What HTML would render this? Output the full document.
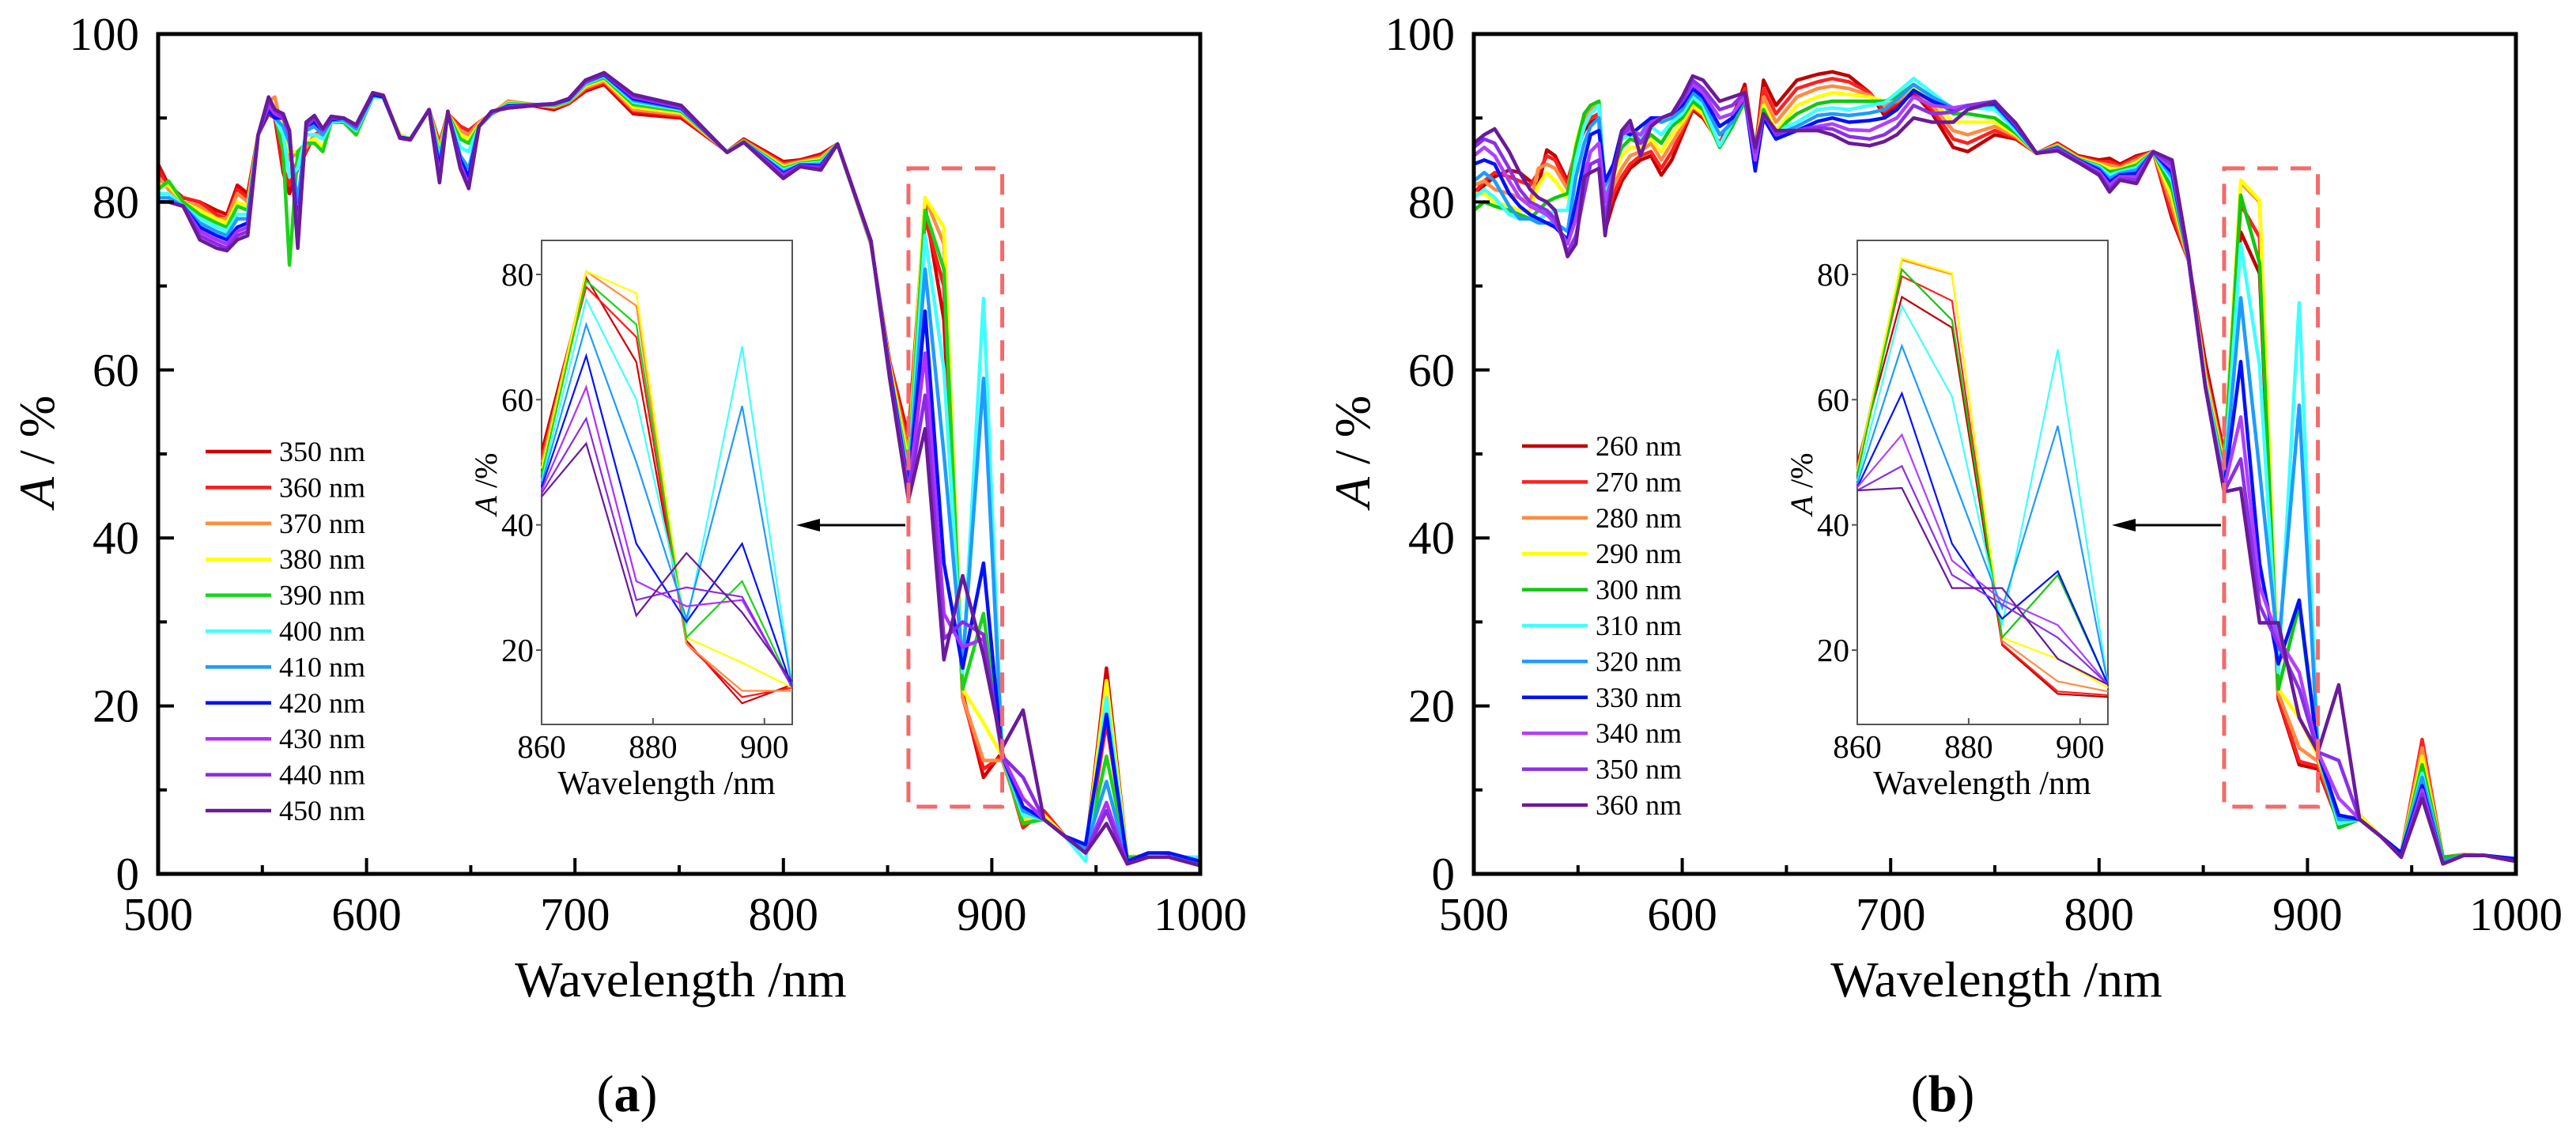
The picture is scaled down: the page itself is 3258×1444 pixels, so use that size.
<!DOCTYPE html>
<html><head><meta charset="utf-8"><style>
html,body{margin:0;padding:0;background:#fff;}
svg{display:block;}
text{font-family:"Liberation Serif","DejaVu Serif",serif;fill:#000;}
</style></head>
<body>
<svg id="chart" width="3258" height="1444" viewBox="0 0 3258 1444" xmlns="http://www.w3.org/2000/svg"></svg>
<script>
// ---------- Panel (a) data ----------
const labelsA = ["350 nm","360 nm","370 nm","380 nm","390 nm","400 nm","410 nm","420 nm","430 nm","440 nm","450 nm"];
const colorsA = ["#d40000","#ff1a1a","#ff8c40","#ffff00","#19d419","#40ffff","#1e9bff","#0010ff","#b030ff","#8a2be2","#6a1a9a"];
const waveA = [500,505,512,520,528,533,538,543,548,553,556,560,563,567,571,575,579,583,589,595,603,608,616,621,630,635,639,645,649,654,660,668,690,697,705,714,728,751,773,781,800,808,818,826,842,851,860,868,877,886,896,905,915,925,935,945,955,965,975,985,1000];
const specA = [
[84.5,84,83,82,81.5,81,80.5,80,80,80,80],
[82,81.5,81.5,82,82.5,81,80.5,80,80,80,80],
[80.5,80.5,80,80,80,79.5,79.5,79.5,79.5,79.5,79.5],
[80,80,79.5,79,78.5,78,77.5,77,76.5,76,75.5],
[79,78.5,78,78,77.5,77,76.5,76,75.5,75,74.5],
[78.5,78,78,77.5,77,76.5,76,75.5,75,74.5,74.2],
[82,81.5,81,80,79.5,78.5,78,77,76.5,76,75.5],
[81,80.5,80,79.5,79,78.5,78,77.5,77,76.5,76],
[88,88,88,88,88,88,88,88,88,88,88],
[90.5,91,92,91,91,91,91,91,91.5,92,92.5],
[90,90.5,92.5,91,90.5,90,90,90,90.5,91,91],
[83.5,84,88,89,86,88,89,90,90,90,90.5],
[81,82,85,86,72.5,83,87,88,88,88.5,88.5],
[84,85,86,86,86,84,80,77,76,75.5,74.5],
[86,86,86.5,87,87,88,88.5,89,89,89,89.5],
[88,88,88,87.5,87,88,89,89.5,90,90,90.3],
[88.5,88.5,88,86.5,86,87.5,88,88.5,88.5,88.7,88.7],
[89.5,89.5,89.5,89.5,89.5,89.5,89.7,89.8,90,90,90.2],
[89.5,89.5,89.5,89.5,89.5,89.7,89.8,90,90,90,90],
[88,88,88,88,88,88.5,88.7,89,89,89,89.2],
[92.5,92.5,92.5,92.5,92.5,92.5,92.7,92.8,93,93,93],
[92.5,92.5,92.5,92.5,92.5,92.5,92.5,92.5,92.7,92.7,92.7],
[88,88,88,88,87.8,87.8,87.7,87.7,87.6,87.6,87.6],
[87.5,87.5,87.5,87.5,87.5,87.5,87.5,87.5,87.4,87.4,87.4],
[91,91,91,91,91,91,91,91,91,91,91],
[87,87,86.5,86,85.5,85,84.5,84,83,82.5,82.3],
[90.5,90.5,90.5,90.5,90.5,90.5,90.5,90.7,90.7,90.8,90.8],
[89,89,88.5,88,87.5,86.5,85.5,85,84.5,84,84],
[88.5,88.5,88,87.5,87,86,84,83,82,81.8,81.6],
[89.5,89.5,89.5,89.2,89,89,89,89,89,89,89],
[90.5,90.5,90.5,90.5,90.5,90.5,90.5,90.7,90.7,90.8,90.8],
[92,92,92,91.8,91.7,91.6,91.5,91.4,91.3,91.2,91.2],
[91,91.2,91.3,91.4,91.5,91.6,91.6,91.7,91.7,91.7,91.7],
[91.7,91.8,91.9,92,92,92.1,92.2,92.2,92.3,92.3,92.3],
[93.2,93.4,93.6,93.8,94,94.1,94.2,94.3,94.3,94.4,94.5],
[94,94.2,94.4,94.6,94.8,95,95.1,95.2,95.3,95.3,95.4],
[90.5,90.8,91,91.3,91.6,91.9,92.1,92.3,92.5,92.6,92.8],
[90,90.2,90.4,90.6,90.8,91,91.1,91.2,91.3,91.4,91.5],
[86,86,86,86,86,86,85.9,85.9,85.9,85.9,85.9],
[87.5,87.4,87.3,87.2,87.2,87.1,87.1,87.1,87.1,87.1,87.1],
[84.8,84.6,84.4,84.2,84,83.8,83.6,83.4,83.2,83,82.8],
[85,84.9,84.8,84.7,84.6,84.5,84.4,84.4,84.3,84.2,84.2],
[85.7,85.5,85.3,85.1,84.9,84.7,84.5,84.3,84.1,84,83.8],
[86.9,86.9,86.9,86.9,86.9,86.9,86.9,86.9,86.9,86.9,86.9],
[75,75,75.1,75.1,75.2,75.2,75.3,75.3,75.4,75.4,75.4],
[61,61,60.5,60.5,60,60,60,60,59.5,59.5,59],
[52,51,50,49,48,47,46.5,46,45.5,45,44.5],
[79.5,78,80.5,80.5,79,76,72,67,62,57,53],
[66,70,75,77,72,60,50,37,31,28,25.5],
[21.5,21,21,22,22,24,25,24.5,27,30,35.5],
[11.5,12.5,13.5,18,31,68.5,59,37,28,28.5,26],
[14.5,14,13.5,14,14,14,14,14,14,14,15],
[6,5.5,6,6.5,6,7,7.5,8,9,11.5,19.5],
[7.5,7.5,7,7,6.5,6.5,6.5,6.5,6.5,6.5,6.5],
[4.5,4.5,4.5,4.5,4.5,4.5,4.5,4.5,4.5,4.5,4.5],
[2.5,2.5,2.5,2.5,2.5,1.5,3,3.5,2.5,2.5,2.5],
[24.5,18,22,23,14,21,11,19,8.5,7.5,6],
[2,2,2,2,2,1.5,1.5,1.5,1.2,1.2,1.2],
[2.2,2.2,2.2,2.2,2,2,2,2.5,2,2,2],
[2.2,2.2,2,2,2,2,2,2.5,2,2,2],
[1.5,1.5,1.5,1.5,1.5,2,1.5,1.5,1,1,1]
];

// ---------- Panel (b) data ----------
const labelsB = ["260 nm","270 nm","280 nm","290 nm","300 nm","310 nm","320 nm","330 nm","340 nm","350 nm","360 nm"];
const colorsB = ["#c00000","#ff2020","#ff8c40","#ffff00","#10c810","#40ffff","#1e9bff","#0010ff","#b040ff","#8a30e8","#6a1a9a"];
const waveB = [500,505,510,517,522,527,531,535,539,545,549,553,556,560,563,567,571,575,580,585,590,595,600,605,610,618,624,630,635,639,645,650,655,665,672,680,690,697,703,711,720,730,737,750,760,770,780,790,800,805,810,818,826,835,843,851,860,868,877,886,896,905,915,925,935,945,955,965,975,985,1000];
const specB = [
[80.5,81,82,81,79,80.5,82.5,84.5,85.5,86.5,87],
[82,82.5,82.5,81,80,81.5,83.5,85,86.5,87.5,88],
[83,83.5,81.5,80,79.5,80.5,82.5,84.5,85.5,87,88.7],
[83.8,83,81,79.5,79,78.5,79.5,81,82.5,84,86],
[83.5,82.5,80.5,79,78.5,78,78,79.5,80.5,81.5,83.5],
[82.5,82,80,79,78,78,78,78.5,79.5,80,81.5],
[82,83.5,84,82,79,78,77.5,78,79,79.5,80.5],
[86.2,85.5,84.5,83.5,80,78.5,77.5,77.5,78.5,79,80],
[85.5,85,84,82.5,80.5,79,77.5,77,77.5,78,79],
[82.5,82,81.5,80.5,81,79,76.5,75.5,75,74,73.5],
[86,86.5,86.5,87,86.5,85,83,80,78,76,75],
[88.5,89,90,90.5,90.5,89,87,85,83,81,83],
[89.5,90,91,91.5,91.5,90.5,89,88,86,84.5,83.5],
[90,90.5,91.5,92,92,91.5,90,88.5,87,85,84],
[76.6,77.5,79,80,81,81.5,82,82.5,80,78,76],
[80,81,82,83,84,84,84,84.5,83.5,83,83],
[82.5,83,84,85.5,86.5,87.5,88,88.5,88,88,88.5],
[84,84.5,85.5,86.5,87.5,88,88.5,88,88.5,89,89.7],
[85,85.5,86,86.5,87,87.5,88,89,88,87,85.5],
[85.5,86,87,87.5,88,89,90,90,89.5,89,89],
[83.2,84,85,86,87,88,89.5,90,90,90,90],
[85,86,87,88,89,89.5,90,90.5,90.5,90.5,90.5],
[88,88.5,89,89.5,90,90.5,91,91.5,92,92,92.5],
[91,91.2,91.4,91.5,92,92.5,93,93.5,94,94.5,95],
[90,90.2,90.4,90.5,91,91.5,92,92.5,93,93.5,94.5],
[87,87,86.8,86.6,86.5,86.7,88,89,90,91,92],
[90,89.5,89,89,89,89.5,89.5,90,90.5,91.5,92.5],
[94,93.5,93,92.5,92,92.5,92.5,92.5,92.5,93,93],
[86,86,86,85.5,85,84.5,84,83.7,85,86,86.5],
[94.5,93.5,92.5,91.5,91,90.5,90,90,90.5,90.5,90.5],
[91.5,90.5,89.5,88.5,88,88,87.5,87.5,88,88,88.5],
[93,92,91,90,89.5,89,88.5,88,88.5,88.5,88.5],
[94.5,93.5,92.5,91.5,90.5,89.5,89,88.5,88.5,88.5,88.5],
[95.2,94.3,93.5,92.5,91.7,91,90.3,89.6,89,88.8,88.5],
[95.5,94.7,93.8,93,92,91.2,90.5,90,89.3,88.7,88],
[95,94.3,93.5,92.8,92,91,90.3,89.5,88.6,87.8,87],
[93,93,92.7,92.5,92,91.5,90.6,89.7,88.5,87.5,86.7],
[90.3,90.8,91.5,92,92,91.8,91,90,89.3,88,87.2],
[91.5,91.8,92,92.3,92.5,93,92.2,91,90,89,88],
[93,93.3,93.5,93.8,94,94.7,94,93.3,92.5,91.5,90],
[90.5,91,91.5,92,92.5,93,92.5,92,91.5,90.5,89.5],
[86.5,87.5,88.5,89.5,90.5,91,91.2,91,91.2,90.7,89.5],
[86,87,88,89.5,90.5,91.3,91.5,91.5,91.5,91.5,91],
[88,88.5,89,89.5,90,91,91.5,91.7,91.9,92,91.9],
[87.5,87.6,87.8,88,88.2,88.5,88.8,89,89.2,89.3,89.4],
[85.8,85.8,85.8,85.8,85.8,85.8,85.8,85.8,85.8,85.8,85.8],
[87,86.9,86.8,86.7,86.6,86.5,86.5,86.4,86.3,86.2,86.1],
[85.5,85.4,85.3,85.2,85.1,85,85,85,84.9,84.8,84.7],
[85,84.8,84.6,84.5,84.3,84.2,84,83.8,83.6,83.4,83.2],
[85.2,84.8,84.4,84,83.6,83.2,82.8,82.4,82,81.6,81.2],
[84.5,84.3,84.1,83.9,83.8,83.6,83.4,83.2,83,82.8,82.6],
[85.5,85.3,85,84.7,84.4,84.1,83.8,83.4,83,82.6,82.2],
[86,86,86,86,86,86,86,86,86,86,86],
[78,78.5,79.5,80.5,81.5,82.5,83,83.5,84,84.5,85],
[73,73,73,73,73,73,73,73,73,73,73.5],
[61,60,59.5,59,58.5,58.5,58,58,58,58,58],
[50,49.5,49,48.5,48,47,46.5,46,46,45.5,45.5],
[76.4,79.7,82.3,82.6,80.8,75,68.6,61,54.4,49.4,45.9],
[71.5,75.8,80,80.2,72.7,60.5,48,37,34.3,32,29.9],
[20.8,21,21.5,22,22,24,26.7,25,28,27.3,29.9],
[13,13.4,15,18.6,32,68,55.8,32.6,24,22,18.6],
[12.5,12.8,13.4,14,14.5,14.5,14.5,14.5,14.5,14.5,14.5],
[6,6,6.5,6.5,5.5,6,6.5,7,9,13.5,22.5],
[7,7,7,7,6.5,6.5,6.5,6.5,6.5,6.5,6.5],
[4.5,4.5,4.5,4.5,4.5,4.5,4.5,4.5,4.5,4.5,4.5],
[2.5,2.5,2.5,2.5,2.5,2.5,2.5,2.5,2,2,2],
[15,16,15,14,13,12,11.5,10.5,10,9.5,9],
[2,2,2,2,2,1.5,1.5,1.2,1.2,1.2,1.2],
[2.3,2.3,2.3,2.2,2.2,2.2,2.2,2.2,2.2,2.2,2.2],
[2.2,2.2,2.2,2.2,2.2,2.2,2.2,2.2,2.2,2.2,2.2],
[1.5,1.5,1.5,1.5,1.5,1.8,1.8,1.8,1.5,1.5,1.5]
];

const xTicks = [500,600,700,800,900,1000];
const yTicks = [0,20,40,60,80,100];
const insetXTicks = [860,880,900];
const insetYTicks = [20,40,60,80];

const NS = "http://www.w3.org/2000/svg";
const svg = document.getElementById("chart");
function mk(tag, attrs, parent) {
  const e = document.createElementNS(NS, tag);
  for (const k in attrs) e.setAttribute(k, attrs[k]);
  (parent || svg).appendChild(e);
  return e;
}

function drawPanel(off, waves, rows, colors, labels, legendY0, panelTag, letter) {
  const g = mk("g", {});
  
  
  const X0 = 200 + off, X1 = 1518 + off, Y0 = 1105, Y1 = 43;
  const sx = v => X0 + (v - 500) / 500 * (X1 - X0);
  const sy = v => Y0 - v / 100 * (Y0 - Y1);
  const clipId = "clip" + panelTag;
  const cp = mk("clipPath", {id: clipId}, g);
  mk("rect", {x: X0, y: Y1, width: X1 - X0, height: Y0 - Y1}, cp);

  // series
  const sg = mk("g", {"clip-path": "url(#" + clipId + ")"}, g);
  for (let s = 0; s < colors.length; s++) {
    const pts = waves.map((w, i) => sx(w).toFixed(1) + "," + sy(rows[i][s]).toFixed(1)).join(" ");
    const pl = mk("polyline", {points: pts, fill: "none", stroke: colors[s], "stroke-width": 4.5, "stroke-linejoin": "round"}, sg);
    
    
  }

  // axes frame
  const fr = mk("rect", {x: X0, y: Y1, width: X1 - X0, height: Y0 - Y1, fill: "none", stroke: "#000", "stroke-width": 5}, g);
  
  

  // x ticks
  for (let v = 500; v <= 1000; v += 50) {
    const len = v % 100 === 0 ? 20 : 11;
    mk("line", {x1: sx(v), x2: sx(v), y1: Y0, y2: Y0 - len, stroke: "#000", "stroke-width": 4}, g);
  }
  xTicks.forEach(v => {
    const t = mk("text", {x: sx(v), y: 1176, "font-size": 59, "text-anchor": "middle"}, g);
    t.textContent = v;
    
    
  });
  for (let v = 0; v <= 100; v += 10) {
    const len = v % 20 === 0 ? 20 : 11;
    mk("line", {x1: X0, x2: X0 + len, y1: sy(v), y2: sy(v), stroke: "#000", "stroke-width": 4}, g);
  }
  yTicks.forEach(v => {
    const t = mk("text", {x: X0 - 24, y: sy(v) + 20, "font-size": 59, "text-anchor": "end"}, g);
    t.textContent = v;
    
    
  });

  const xt = mk("text", {x: 861 + off, y: 1260, "font-size": 64, "text-anchor": "middle"}, g);
  xt.textContent = "Wavelength /nm";
  
  

  const yt = mk("text", {x: 0, y: 0, "font-size": 64, "text-anchor": "middle", transform: "translate(" + (68 + off) + ",571) rotate(-90)"}, g);
  yt.innerHTML = '<tspan font-style="italic">A</tspan> / %';
  
  

  const pl = mk("text", {x: 793 + off, y: 1405, "font-size": 66, "text-anchor": "middle"}, g);
  pl.innerHTML = '(<tspan font-weight="bold">' + letter + '</tspan>)';
  
  

  // legend
  const lg = mk("g", {}, g);
  
  
  const lx = (panelTag === "a" ? 260 : 261) + off;
  labels.forEach((lab, i) => {
    const y = legendY0 + i * 45.4;
    const eg = mk("g", {}, lg);
    
    
    mk("line", {x1: lx, x2: lx + 83, y1: y, y2: y, stroke: colors[i], "stroke-width": 4.5}, eg);
    const t = mk("text", {x: lx + 93, y: y + 12, "font-size": 36}, eg);
    t.textContent = lab;
  });

  // dashed highlight box
  const db = mk("rect", {x: sx(860), y: sy(84), width: sx(905) - sx(860), height: sy(8) - sy(84), fill: "none", stroke: "#f46a6a", "stroke-width": 5, "stroke-dasharray": "26,16"}, g);
  
  

  // inset
  const IX0 = 685 + off, IX1 = 1002 + off, IY0 = 916, IY1 = 304;
  const ix = v => IX0 + (v - 860) / 45 * (IX1 - IX0);
  const iy = v => 347 + (80 - v) * 7.917;
  const ig = mk("g", {}, g);
  
  
  mk("rect", {x: IX0, y: IY1, width: IX1 - IX0, height: IY0 - IY1, fill: "#fff", stroke: "#555", "stroke-width": 2}, ig);
  const idx = waves.map((w, i) => i).filter(i => waves[i] >= 860 && waves[i] <= 905);
  for (let s = 0; s < colors.length; s++) {
    const pts = idx.map(i => ix(waves[i]).toFixed(1) + "," + iy(rows[i][s]).toFixed(1)).join(" ");
    const p = mk("polyline", {points: pts, fill: "none", stroke: colors[s], "stroke-width": 2.2}, ig);
    
    
  }
  insetXTicks.forEach(v => {
    mk("line", {x1: ix(v), x2: ix(v), y1: IY0, y2: IY0 - 8, stroke: "#555", "stroke-width": 2}, ig);
    const t = mk("text", {x: ix(v), y: 958, "font-size": 41, "text-anchor": "middle"}, ig);
    t.textContent = v;
    
    
  });
  insetYTicks.forEach(v => {
    mk("line", {x1: IX0, x2: IX0 - 7, y1: iy(v), y2: iy(v), stroke: "#555", "stroke-width": 2}, ig);
    const t = mk("text", {x: IX0 - 10, y: iy(v) + 14, "font-size": 41, "text-anchor": "end"}, ig);
    t.textContent = v;
    
    
  });
  const ixt = mk("text", {x: 843 + off, y: 1004, "font-size": 42, "text-anchor": "middle"}, ig);
  ixt.textContent = "Wavelength /nm";
  
  
  const iyt = mk("text", {x: 0, y: 0, "font-size": 40, "text-anchor": "middle", transform: "translate(" + (628 + off) + ",612) rotate(-90)"}, ig);
  iyt.innerHTML = '<tspan font-style="italic">A</tspan> /%';
  
  

  // arrow
  const ag = mk("g", {}, g);
  
  
  const ay = 664;
  mk("line", {x1: sx(860) - 4, x2: IX1 + 30, y1: ay, y2: ay, stroke: "#000", "stroke-width": 3}, ag);
  mk("polygon", {points: (IX1 + 5) + "," + ay + " " + (IX1 + 35) + "," + (ay - 8) + " " + (IX1 + 35) + "," + (ay + 8), fill: "#000"}, ag);
}

drawPanel(0, waveA, specA, colorsA, labelsA, 571, "a", "a");
drawPanel(1664, waveB, specB, colorsB, labelsB, 564, "b", "b");
</script>
</body></html>
